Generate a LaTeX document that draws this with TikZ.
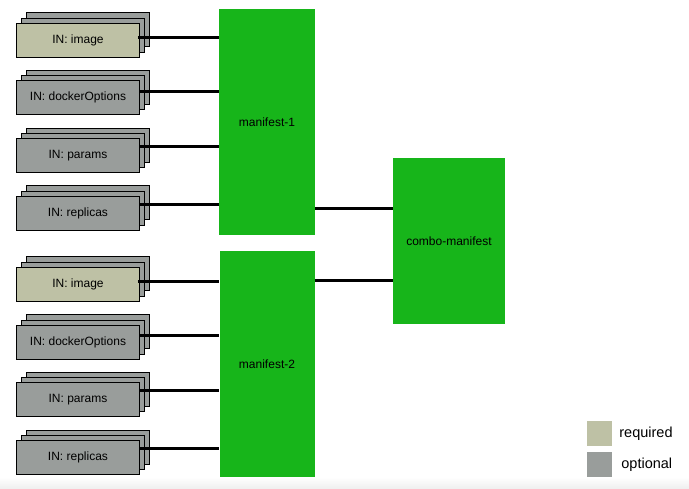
\documentclass[tikz,border=0pt]{standalone}
\usepackage{fontspec}
\setmainfont{Liberation Sans}
\usepackage{xcolor}
\usepackage{tikz}
\usetikzlibrary{positioning, calc}

\definecolor{mgreen}{RGB}{23,181,26}
\definecolor{reqbeige}{RGB}{190,193,165}
\definecolor{optgray}{RGB}{153,157,155}

\begin{document}
\begin{tikzpicture}[
    x=1pt, y=1pt,
    font=\fontsize{12}{14}\selectfont,
    inbox/.style={
      draw,
      line width=0.8pt,
      fill=optgray,
      minimum width=123pt,
      minimum height=34pt,
      preaction={draw, fill=optgray, transform canvas={shift={(9.5pt,10.5pt)}}},
      preaction={draw, fill=optgray, transform canvas={shift={(4.5pt,5pt)}}}
    },
    reqbox/.style={
      inbox,
      fill=reqbeige
    },
    manifest/.style={
      fill=mgreen,
      minimum width=96pt,
      minimum height=226pt
    },
    legendbox/.style={
      minimum size=25pt,
      inner sep=0pt
    },
    legendtext/.style={
      anchor=west,
      inner sep=0pt,
      font=\fontsize{14.5}{16}\selectfont
    },
    link/.style={line width=3pt},
    node distance=23pt
]
\useasboundingbox (0,0) rectangle (689,488);
\shade[top color=white, bottom color=black!6] (0,0) rectangle (689,11);

% 1) Inputs of manifest-1
\node[reqbox] (img1) at (78,448) {IN: image};
\node[inbox, below=23pt of img1] (dock1) {IN: dockerOptions};
\node[inbox, below=23pt of dock1] (par1) {IN: params};
\node[inbox, below=23pt of par1] (rep1) {IN: replicas};

% 2) Inputs of manifest-2
\node[reqbox, below=36pt of rep1] (img2) {IN: image};
\node[inbox, below=23pt of img2] (dock2) {IN: dockerOptions};
\node[inbox, below=23pt of dock2] (par2) {IN: params};
\node[inbox, below=23pt of par2] (rep2) {IN: replicas};

% 3) Manifests
\node[manifest] (m1) at (267,365.5) {manifest-1};
\node[manifest, below=15pt of m1, minimum width=95pt] (m2) {manifest-2};

% 4) Combined manifest
\node[manifest, minimum width=112pt, minimum height=166pt] (combo) at (449,247) {combo-manifest};

% 5) Legend
\node[legendbox, fill=reqbeige] (legreq) at (599.5,54.5) {};
\node[legendbox, fill=optgray, below=6pt of legreq] (legopt) {};
\node[legendtext] at ([xshift=7pt]legreq.east) {required};
\node[legendtext] at ([xshift=9pt]legopt.east) {optional};

% LINKS
% inputs -> manifest-1
\draw[link] ([xshift=-2pt, yshift=2.5pt]img1.east) -- ([yshift=2.5pt]img1.east -| m1.west);
\draw[link] ([yshift=6pt]dock1.east) -- ([yshift=6pt]dock1.east -| m1.west);
\draw[link] ([yshift=9pt]par1.east) -- ([yshift=9pt]par1.east -| m1.west);
\draw[link] ([yshift=9pt]rep1.east) -- ([yshift=9pt]rep1.east -| m1.west);

% inputs -> manifest-2
\draw[link] ([xshift=-2pt, yshift=2.5pt]img2.east) -- ([yshift=2.5pt]img2.east -| m2.west);
\draw[link] ([yshift=6pt]dock2.east) -- ([yshift=6pt]dock2.east -| m2.west);
\draw[link] ([yshift=9pt]par2.east) -- ([yshift=9pt]par2.east -| m2.west);
\draw[link] ([yshift=9pt]rep2.east) -- ([yshift=9pt]rep2.east -| m2.west);

% manifests -> combo
\draw[link] ([yshift=32pt]m1.east |- combo.west) -- ([yshift=32pt]combo.west);
\draw[link] ([yshift=-40pt]m2.east |- combo.west) -- ([yshift=-40pt]combo.west);

\end{tikzpicture}
\end{document}
